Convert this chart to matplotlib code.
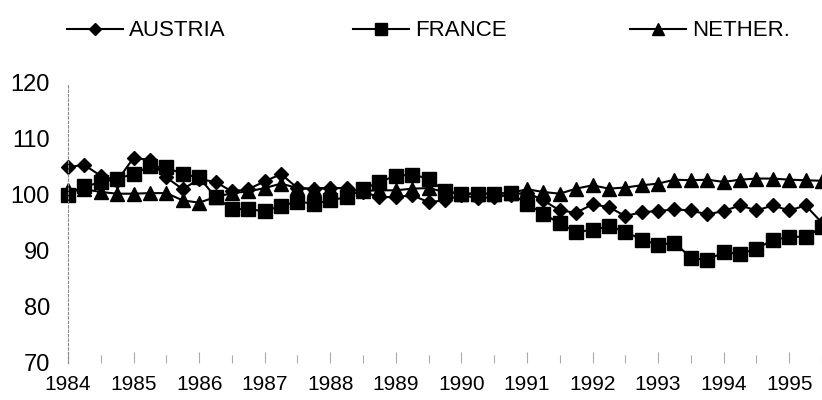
import numpy as np
import matplotlib
matplotlib.use('Agg')
import matplotlib.pyplot as plt

plt.rcParams['font.family'] = ['Liberation Sans', 'DejaVu Sans']

# Quarterly index values, 1984Q1 .. 1995Q3
quarters = 1984 + np.arange(47) * 0.25

austria = [105.0, 105.3, 103.4, 102.5,
           106.6, 106.2, 103.1, 101.0,
           102.8, 102.3, 100.6, 101.0,
           102.4, 103.7, 101.2, 101.0,
           101.2, 101.2, 100.5, 99.6,
           99.6, 99.9, 98.7, 99.0,
           100.0, 99.4, 99.6, 100.0,
           100.4, 99.0, 97.2, 96.8,
           98.3, 97.8, 96.2, 96.9,
           97.1, 97.4, 97.2, 96.5,
           97.1, 98.1, 97.2, 98.1,
           97.2, 98.1, 95.0]

france = [100.0, 101.5, 102.2, 102.9,
          103.7, 105.1, 104.9, 103.7,
          103.1, 99.6, 97.5, 97.4,
          97.1, 98.0, 98.8, 98.4,
          99.0, 99.6, 101.0, 102.3,
          103.4, 103.6, 102.9, 100.6,
          100.2, 100.2, 100.2, 100.3,
          98.4, 96.6, 94.9, 93.4,
          93.7, 94.4, 93.4, 92.0,
          91.1, 91.4, 88.8, 88.3,
          89.8, 89.4, 90.4, 91.9,
          92.5, 92.5, 94.2]

nether = [100.8, 101.0, 100.5, 100.2,
          100.2, 100.3, 100.3, 99.0,
          98.6, 99.6, 100.3, 100.6,
          101.2, 102.0, 101.2, 101.1,
          101.3, 101.1, 100.7, 100.8,
          100.8, 101.1, 101.2, 100.5,
          100.2, 100.2, 100.2, 100.3,
          101.0, 100.5, 100.2, 101.1,
          101.7, 101.1, 101.3, 101.7,
          102.0, 102.7, 102.6, 102.7,
          102.3, 102.7, 102.9, 102.9,
          102.7, 102.6, 102.5]

years = list(range(1984, 1996))
yticks = [70, 80, 90, 100, 110, 120]

fig = plt.figure(figsize=(8.22, 4.0), dpi=100)
ax = fig.add_axes([68 / 822, 0.093, 1 - 68 / 822, 0.70])

l1, = ax.plot(quarters, austria, color='black', lw=1.5, marker='D', ms=7.5, clip_on=False)
l2, = ax.plot(quarters, france, color='black', lw=1.5, marker='s', ms=10, clip_on=False)
l3, = ax.plot(quarters, nether, color='black', lw=1.5, marker='^', ms=10, clip_on=False)

ax.set_xlim(1984, 1984 + (822 - 68) / 65.6)
ax.set_ylim(70, 120)

ax.set_yticks(yticks)
ax.set_yticklabels([str(v) for v in yticks], fontsize=17)
ax.tick_params(axis='y', length=0, pad=13)

ax.set_xticks(years)
ax.set_xticklabels([str(y) for y in years], fontsize=15)
ax.set_xticks(np.arange(1984.5, 1996, 1.0), minor=True)
ax.tick_params(axis='x', which='both', direction='in', color='#aaaaaa', width=0.8, pad=9)
ax.tick_params(axis='x', which='major', length=8)
ax.tick_params(axis='x', which='minor', length=6)

for s in ['top', 'right', 'bottom']:
    ax.spines[s].set_visible(False)
ax.spines['left'].set_linestyle((0, (2, 2)))
ax.spines['left'].set_color('#888888')
ax.spines['left'].set_linewidth(0.8)

# legend entries across the top
for h, lab, x0 in [(l1, 'AUSTRIA', 67), (l2, 'FRANCE', 353), (l3, 'NETHER.', 630)]:
    fig.legend([h], [lab], loc='center left', bbox_to_anchor=(x0 / 822, 1 - 31 / 400),
               frameon=False, fontsize=16, handlelength=2.5, handletextpad=0.3,
               borderpad=0, borderaxespad=0, markerscale=0.85)

fig.savefig('out.png', dpi=100)
